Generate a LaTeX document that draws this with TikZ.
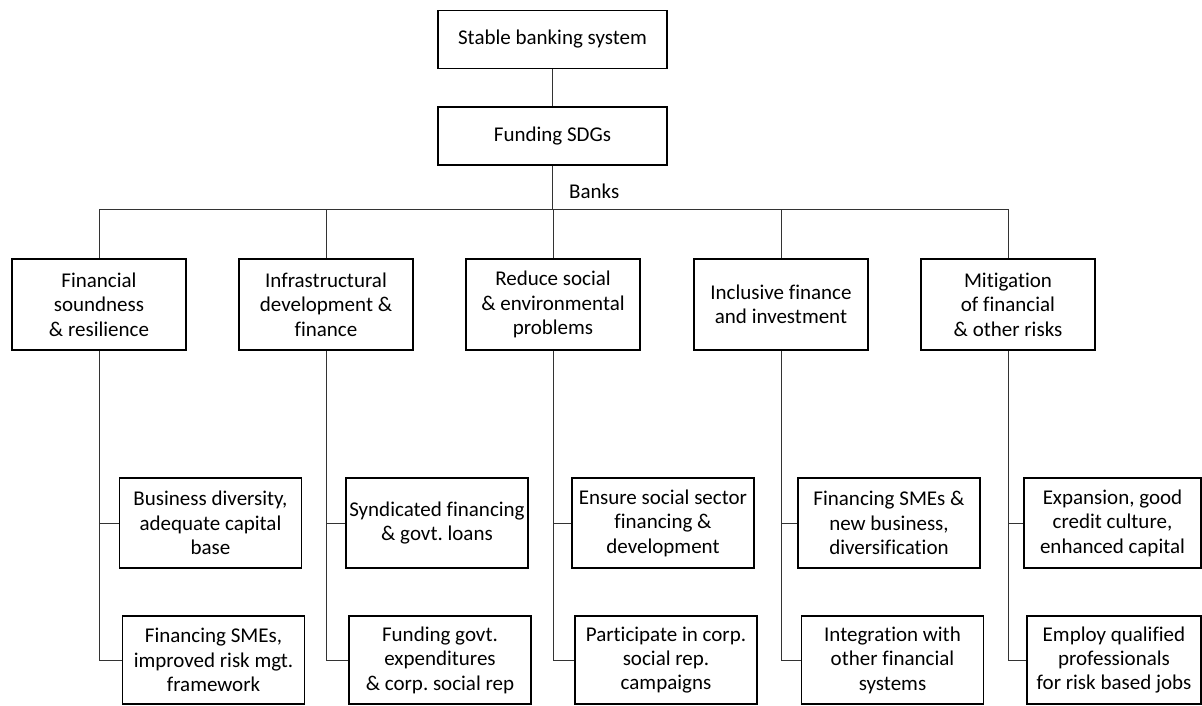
\documentclass[tikz,border=0pt]{standalone}
\usepackage{fontspec}
\setmainfont[Ligatures={NoCommon}]{Carlito}
\frenchspacing
\begin{document}
\begin{tikzpicture}[x=1pt,y=-1pt,
  box/.style={draw=black,line width=1.6pt,align=center,inner sep=0pt,
    font=\fontsize{21}{24.4}\selectfont\frenchspacing},
  topbox/.style={box,minimum width=229pt,minimum height=58pt},
  midbox/.style={box,minimum width=174pt,minimum height=91pt},
  subbox/.style={box,minimum width=182pt,minimum height=90pt},
  lowbox/.style={box,minimum width=182pt,minimum height=88pt},
  link/.style={draw=black!80,line width=0.9pt}]
\useasboundingbox (0,0) rectangle (1202,706);
\node[topbox] (top) at (552.5,39.5) {Stable banking system};
\node[topbox] (fund) at (552.5,136) {Funding SDGs};
\coordinate (bus) at (0,209);
\node[anchor=west,font=\fontsize{21}{24.4}\selectfont,inner sep=0pt] (banks) at (569,191) {Banks};

\node[midbox] (m1) at (99,304.5) {Financial\\soundness\\\& resilience};
\node[midbox] (m2) at (326,304.5) {Infrastructural\\development \&\\finance};
\node[midbox] (m3) at (553,304.5) {Reduce social\\\& environmental\\problems};
\node[midbox] (m4) at (781,304.5) {Inclusive finance\\and investment};
\node[midbox] (m5) at (1008,304.5) {Mitigation\\of financial\\\& other risks};

\node[subbox] (s1a) at (210.5,523) {Business diversity,\\adequate capital\\base};
\node[subbox] (s2a) at (437,523) {Syndicated financing\\\& govt. loans};
\node[subbox] (s3a) at (663,523) {Ensure social sector\\financing \&\\development};
\node[subbox] (s4a) at (889,523) {Financing SMEs \&\\new business,\\diversification};
\node[subbox,minimum width=177pt] (s5a) at (1112.5,523) {Expansion, good\\credit culture,\\enhanced capital};

\node[lowbox] (s1b) at (213.5,660) {Financing SMEs,\\improved risk mgt.\\framework};
\node[lowbox] (s2b) at (440,660) {Funding govt.\\expenditures\\\& corp. social rep};
\node[lowbox] (s3b) at (666,660) {Participate in corp.\\social rep.\\campaigns};
\node[lowbox] (s4b) at (892.5,660) {Integration with\\other financial\\systems};
\node[lowbox,minimum width=174pt] (s5b) at (1114,660) {Employ qualified\\professionals\\for risk based jobs};

\draw[link] (top) -- (fund);
\foreach \m in {m1,m2,m3,m4,m5}{
  \draw[link] (fund.south) -- (fund.south |- bus) -| (\m.north);
}
\foreach \m/\a/\b in {m1/s1a/s1b,m2/s2a/s2b,m3/s3a/s3b,m4/s4a/s4b,m5/s5a/s5b}{
  \draw[link] (\m.south) |- (\b.west);
  \draw[link] (\m.south |- \a.west) -- (\a.west);
}
\end{tikzpicture}
\end{document}
